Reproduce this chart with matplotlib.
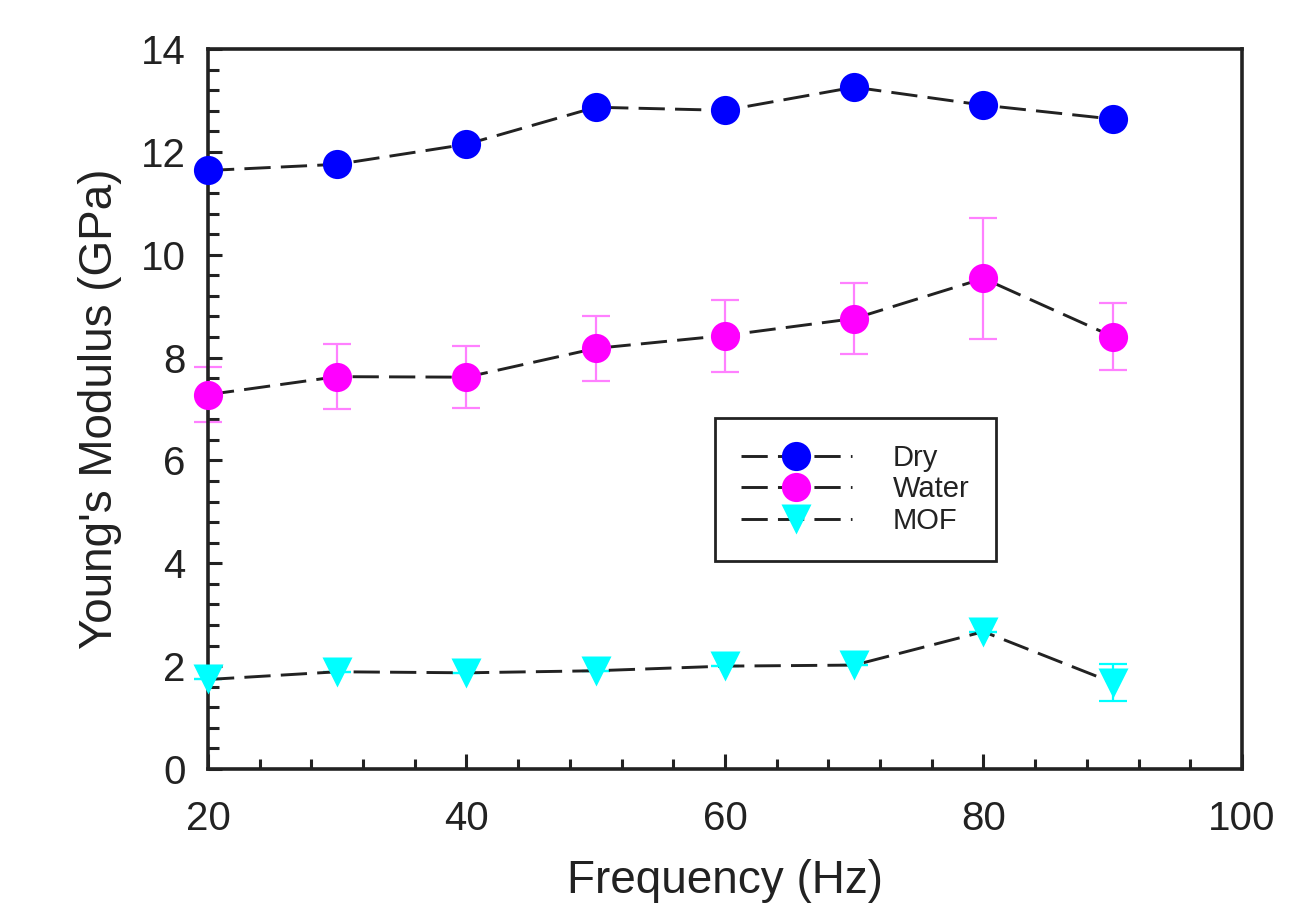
import matplotlib
matplotlib.use("Agg")
import matplotlib.pyplot as plt
from matplotlib.ticker import MultipleLocator

freq = [20, 30, 40, 50, 60, 70, 80, 90]
dry = [11.64, 11.76, 12.15, 12.87, 12.81, 13.26, 12.91, 12.64]
water = [7.28, 7.63, 7.62, 8.18, 8.43, 8.76, 9.54, 8.41]
water_err = [0.53, 0.63, 0.60, 0.63, 0.70, 0.69, 1.17, 0.66]
mof = [1.74, 1.89, 1.87, 1.91, 2.00, 2.02, 2.67, 1.68]
mof_err = [0, 0, 0, 0, 0, 0, 0, 0.36]
labels = ["Dry", "Water", "MOF"]

plt.rcParams['font.family'] = ['Liberation Sans', 'DejaVu Sans']

fig = plt.figure(figsize=(13.09, 9.10), dpi=100)
ax = fig.add_axes([0.1589, 0.155, 0.7899, 0.791])

ls = (0, (9, 3.5))
lc = '#222222'
lw = 2.1
ms = 21

ax.errorbar(freq, water, yerr=water_err, fmt='none', ecolor='#ff80ff',
            elinewidth=1.6, capsize=10, capthick=1.6, zorder=2, clip_on=False)
ax.errorbar(freq, mof, yerr=mof_err, fmt='none', ecolor='#00ffff',
            elinewidth=1.6, capsize=10, capthick=1.6, zorder=2, clip_on=False)

ax.plot(freq, dry, linestyle=ls, color=lc, lw=lw, zorder=3)
ax.plot(freq, water, linestyle=ls, color=lc, lw=lw, zorder=3)
ax.plot(freq, mof, linestyle=ls, color=lc, lw=lw, zorder=3)

ax.plot(freq, dry, linestyle='none', marker='o', ms=ms, color='#0000ff', mec='none', zorder=4, clip_on=False)
ax.plot(freq, water, linestyle='none', marker='o', ms=ms, color='#ff00ff', mec='none', zorder=4, clip_on=False)
ax.plot(freq, mof, linestyle='none', marker='v', ms=ms, color='#00ffff', mec='none', zorder=4, clip_on=False)

# legend proxies
h1, = ax.plot([], [], linestyle=ls, color=lc, lw=lw, marker='o', ms=ms, mfc='#0000ff', mec='none')
h2, = ax.plot([], [], linestyle=ls, color=lc, lw=lw, marker='o', ms=ms, mfc='#ff00ff', mec='none')
h3, = ax.plot([], [], linestyle=ls, color=lc, lw=lw, marker='v', ms=ms, mfc='#00ffff', mec='none')
leg = ax.legend([h1, h2, h3], labels, loc='upper left', bbox_to_anchor=(0.49, 0.488),
                fontsize=21, frameon=True, fancybox=False, framealpha=1,
                edgecolor='#222222', borderpad=0.9, handlelength=3.8,
                handletextpad=1.4, labelspacing=0.12, borderaxespad=0)
leg.get_frame().set_linewidth(2.0)
for t in leg.get_texts():
    t.set_color('#222222')

ax.set_xlim(20, 100)
ax.set_ylim(0, 14)
ax.xaxis.set_major_locator(MultipleLocator(20))
ax.xaxis.set_minor_locator(MultipleLocator(4))
ax.yaxis.set_major_locator(MultipleLocator(2))
ax.yaxis.set_minor_locator(MultipleLocator(0.4))

ax.tick_params(which='both', direction='in', top=False, right=False, colors='#222222',
               labelcolor='#222222', width=2.2)
ax.tick_params(axis='x', which='major', length=11, pad=22, labelsize=29)
ax.tick_params(axis='x', which='minor', length=7)
ax.tick_params(axis='y', which='major', length=10, pad=16, labelsize=29)
ax.tick_params(axis='y', which='minor', length=8)

for s in ax.spines.values():
    s.set_linewidth(2.6)
    s.set_color('#222222')

ax.set_xlabel("Frequency (Hz)", fontsize=33, color='#222222')
ax.set_ylabel("Young's Modulus (GPa)", fontsize=33, color='#222222')
ax.xaxis.set_label_coords(0.5, -0.125)
ax.yaxis.set_label_coords(-0.083, 0.5)

fig.savefig("out.png", dpi=100)
